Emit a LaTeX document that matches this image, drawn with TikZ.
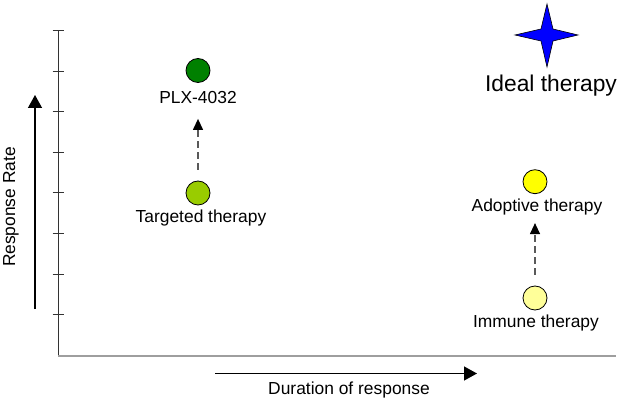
\documentclass[tikz,border=0pt]{standalone}
\usepackage{fontspec}
\setmainfont{Liberation Sans}
\usetikzlibrary{arrows.meta,positioning}

\begin{document}
\begin{tikzpicture}[x=1pt, y=-1pt,
    dot/.style={circle, draw, line width=0.8pt, minimum size=24pt, inner sep=0pt},
    lbl/.style={font=\fontsize{17.4}{20}\selectfont, inner sep=0pt, anchor=base},
    axisarrow/.style={-{Triangle[length=13pt,width=14pt]}, line width=1.3pt},
    trend/.style={-{Triangle[length=11pt,width=10pt,color=black]}, dash pattern=on 7pt off 4pt, draw=black!65, line width=1.2pt}
]
    \useasboundingbox (0,0) rectangle (622,401);

    % 坐标轴
    \coordinate (origin) at (58,356);
    \coordinate (ytop) at (58,30);
    \coordinate (xend) at (616,356);
    \draw[line width=1pt, black!80] (origin) -- (ytop);
    \draw[line width=1.6pt, black!38] (origin) -- (xend);
    \foreach \i in {0,...,7}
        \draw[line width=0.8pt, black!80] (52.5,30.5+40.6*\i) -- (63.5,30.5+40.6*\i);

    % 轴标题箭头
    \coordinate (rstart) at (35,309);
    \coordinate (rend) at (35,95);
    \draw[axisarrow] (rstart) -- (rend);
    \node[font=\fontsize{17.4}{20}\selectfont, rotate=90] (rlabel) at (11,207) {Response Rate};

    \coordinate (dstart) at (215,373.5);
    \coordinate (dend) at (477,373.5);
    \draw[axisarrow] (dstart) -- (dend);
    \node[lbl] (dlabel) at (349,394) {Duration of response};

    % 治疗节点
    \node[dot, fill={rgb,255:red,0;green,128;blue,0}] (plx) at (198,70.5) {};
    \node[lbl] (plxlbl) at (198,103.3) {PLX-4032};

    \node[dot, fill={rgb,255:red,153;green,204;blue,0}] (tgt) at (198,193) {};
    \node[lbl] (tgtlbl) at (201,223) {Targeted therapy};

    \node[dot, fill={rgb,255:red,255;green,255;blue,0}] (adp) at (535,181.7) {};
    \node[lbl] (adplbl) at (537,212) {Adoptive therapy};

    \node[dot, fill={rgb,255:red,255;green,255;blue,153}] (imm) at (535,298) {};
    \node[lbl] (immlbl) at (536,327) {Immune therapy};

    % 理想治疗
    \coordinate (ideal) at (547,35);
    \draw[line width=0.6pt, fill={rgb,255:red,0;green,0;blue,255}]
        (547,4) -- (553,29) -- (578,35) -- (553,41) -- (547,67)
        -- (541,41) -- (515,35) -- (541,29) -- cycle;
    \node[lbl, font=\fontsize{22.8}{26}\selectfont] (ideallbl) at (551,91.5) {Ideal therapy};

    % 改进箭头
    \draw[trend, shorten <=11pt, shorten >=36pt] (tgt) -- (plx);
    \draw[trend, shorten <=11pt, shorten >=29pt] (imm) -- (adp);
\end{tikzpicture}
\end{document}
